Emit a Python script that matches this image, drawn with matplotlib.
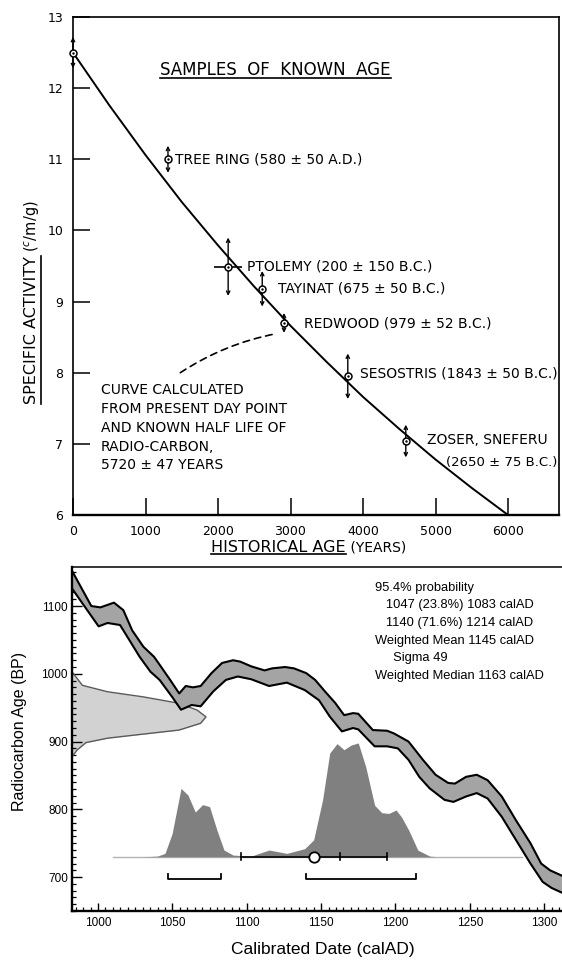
'''
    two-panel radiocarbon figure:
    top - Libby's samples of known age, bottom - a calibrated date
'''
import numpy as np
import matplotlib
matplotlib.use('Agg')
from matplotlib import pyplot as plt
from matplotlib.lines import Line2D
from matplotlib.ticker import MultipleLocator

# ---------------- top panel: samples of known age ----------------
curve_age = [0, 500, 1000, 1500, 2000, 2500, 3000, 3500, 4000, 4500, 5000, 5500, 6000]
curve_act = [12.5, 11.76, 11.06, 10.4, 9.79, 9.21, 8.66, 8.15, 7.66, 7.21, 6.78, 6.38, 6.0]

sample_label = ['', 'TREE RING (580 ± 50 A.D.)', 'PTOLEMY (200 ± 150 B.C.)',
                'TAYINAT (675 ± 50 B.C.)', 'REDWOOD (979 ± 52 B.C.)',
                'SESOSTRIS (1843 ± 50 B.C.)', 'ZOSER, SNEFERU']
sample_age = [0, 1310, 2140, 2610, 2910, 3790, 4590]
sample_act = [12.5, 11.0, 9.49, 9.18, 8.70, 7.95, 7.04]
sample_err = [0.22, 0.19, 0.41, 0.25, 0.14, 0.32, 0.23]
sample_age_err = [0, 0, 190, 0, 0, 0, 0]
zoser_date = '(2650 ± 75 B.C.)'
curve_note = ('CURVE CALCULATED\nFROM PRESENT DAY POINT\nAND KNOWN HALF LIFE OF\n'
              'RADIO-CARBON,\n5720 ± 47 YEARS')

top_xticks = [0, 1000, 2000, 3000, 4000, 5000, 6000]
top_yticks = [6, 7, 8, 9, 10, 11, 12, 13]

# ---------------- bottom panel: calibration ----------------
upper_yr = [982.5, 995.5, 1001.6, 1010.7, 1017, 1023, 1030.5, 1037.7, 1042.5, 1048.5,
            1054.6, 1059, 1063.8, 1069, 1076.3, 1083.4, 1090.8, 1095.6, 1103, 1112,
            1117, 1125.8, 1131.8, 1140, 1146, 1153, 1159.5, 1165.5, 1171.5, 1175,
            1184.8, 1194.4, 1199, 1208.8, 1218.5, 1227, 1235.4, 1240, 1247.5, 1254.7,
            1262, 1271.5, 1281, 1290.8, 1298, 1304, 1312]
upper_bp = [1152, 1100, 1098, 1105, 1094, 1064, 1040, 1025, 1010, 991,
            971, 982, 980, 982, 1001, 1016, 1020, 1018, 1011, 1005,
            1008, 1010, 1008, 1001, 991, 973, 957, 939, 942, 941,
            917, 916, 912, 900, 873, 851, 839, 838, 848, 851,
            843, 819, 784, 750, 720, 710, 702]
lower_yr = [982.5, 989.5, 1000.4, 1006.4, 1014.8, 1021, 1028, 1035.3, 1041.4, 1049.8,
            1055.8, 1063, 1069, 1077.5, 1086, 1094, 1103, 1115, 1127, 1139,
            1148.6, 1155.8, 1164, 1171.5, 1175, 1186, 1194.4, 1201.6, 1208.8, 1216,
            1223, 1233, 1239, 1247.5, 1254.7, 1262, 1271.5, 1281, 1290.8, 1299,
            1305, 1312]
lower_bp = [1126, 1104, 1070, 1075, 1072, 1050, 1025, 1003, 991, 966,
            947, 954, 952, 974, 991, 996, 992, 982, 987, 976,
            961, 937, 915, 920, 918, 893, 893, 890, 873, 848,
            831, 814, 811, 819, 824, 816, 789, 755, 720, 693,
            684, 677]

# measured radiocarbon age, drawn against the y axis
gauss_bp = [1003, 983, 973.5, 966, 956.5, 946.5, 936.5, 927, 917, 911, 905, 898.5, 887.5, 877.5]
gauss_yr = [982.5, 989.5, 1006.4, 1030.3, 1054.5, 1066.6, 1072.6, 1069, 1054.5, 1030.3,
            1006.4, 991.9, 985.9, 982.5]

# calibrated probability distribution
dist_base = 730
dist_yr = [1030, 1040, 1045, 1049.8, 1055.8, 1060.5, 1065.4, 1070.3, 1075, 1080,
           1084.7, 1090.8, 1103, 1115, 1127, 1139, 1145, 1151, 1155.8, 1160.7,
           1165.4, 1170.3, 1175, 1180, 1186, 1190.8, 1195.6, 1200.4, 1204, 1209,
           1215, 1223, 1228]
dist_bp = [730, 731, 735, 764, 831, 821, 796, 807, 804, 769,
           740, 732.5, 731, 740, 735, 742, 755, 814, 883, 897,
           888, 895, 898, 863, 806, 795, 794, 799, 789, 769,
           740, 731, 730]
baseline_yr = [1010, 1285]

cal_mean = 1145
cal_sigma = 49
cal_median = 1163
range_from = [1047, 1140]
range_to = [1083, 1214]
range_bp = 697

summary = ['95.4% probability',
           '   1047 (23.8%) 1083 calAD',
           '   1140 (71.6%) 1214 calAD',
           'Weighted Mean 1145 calAD',
           '     Sigma 49',
           'Weighted Median 1163 calAD']

plt.rcParams['font.family'] = ['Liberation Sans', 'DejaVu Sans']
HAND = 'DejaVu Sans'

fig = plt.figure(figsize=(5.62, 9.61), dpi=100)
W, H = 562.0, 961.0


def underline(txt, vertical=False, lw=1.2):
    fig.canvas.draw()
    bb = txt.get_window_extent().transformed(fig.transFigure.inverted())
    if vertical:
        x = bb.x1 + 1.0 / W
        ln = Line2D([x, x], [bb.y0, bb.y1], color='k', lw=lw, transform=fig.transFigure)
    else:
        y = bb.y0 + 1.0 / H
        ln = Line2D([bb.x0, bb.x1], [y, y], color='k', lw=lw, transform=fig.transFigure)
    fig.add_artist(ln)


# ======================= top panel =======================
ax = fig.add_axes([73 / W, 1 - 515 / H, (559 - 73) / W, (515 - 17) / H])
ax.set_xlim(0, 6703)
ax.set_ylim(6, 13)
ax.set_xticks(top_xticks)
ax.set_yticks(top_yticks)
ax.tick_params(direction='in', length=12, width=1.1, labelsize=9, pad=7)
for lbl in ax.get_xticklabels() + ax.get_yticklabels():
    lbl.set_fontfamily(HAND)
for sp in ax.spines.values():
    sp.set_linewidth(1.2)
ax.spines['bottom'].set_linewidth(1.7)

ax.plot(curve_age, curve_act, 'k-', lw=1.4, zorder=3)

ax.errorbar(sample_age, sample_act, xerr=sample_age_err, fmt='none',
            ecolor='k', elinewidth=1.2, capsize=0, zorder=3)
for i in range(len(sample_age)):
    ax.annotate('', xy=(sample_age[i], sample_act[i] + sample_err[i]),
                xytext=(sample_age[i], sample_act[i] - sample_err[i]),
                arrowprops=dict(arrowstyle='<->', lw=1.0, color='k',
                                shrinkA=0, shrinkB=0, mutation_scale=6),
                zorder=3)
ax.plot(sample_age, sample_act, 'o', ms=5, mfc='white', mec='k', mew=1.1, zorder=5,
        clip_on=False)
ax.plot(sample_age, sample_act, '.', ms=1.5, color='k', zorder=6, clip_on=False)

label_dx = [0, 7, 19, 16, 20, 12, 21]
label_dy = [0, 0, 0, 0, -1, 3, 1]
for i in range(1, len(sample_age)):
    ax.annotate(sample_label[i], xy=(sample_age[i], sample_act[i]),
                xytext=(label_dx[i], label_dy[i]), textcoords='offset pixels',
                ha='left', va='center', fontsize=10, fontfamily=HAND)
ax.annotate(zoser_date, xy=(sample_age[-1], sample_act[-1]), xytext=(40, -21),
            textcoords='offset pixels', ha='left', va='center', fontsize=9.5,
            fontfamily=HAND)

ax.text(386, 7.86, curve_note, ha='left', va='top', fontsize=10,
        fontfamily=HAND, linespacing=1.45)
ax.annotate('', xy=(2810, 8.55), xytext=(1480, 8.0),
            arrowprops=dict(arrowstyle='-', ls=(0, (4, 3)), lw=1.2, color='k',
                            connectionstyle='arc3,rad=-0.1', shrinkA=0, shrinkB=0))

title = ax.text(2790, 12.26, 'SAMPLES  OF  KNOWN  AGE', ha='center', va='center',
                fontsize=12, fontfamily=HAND)

xl = fig.text(211 / W, 1 - 547 / H, 'HISTORICAL AGE', ha='left', va='center',
              fontsize=11.5, fontfamily=HAND)
ax.annotate(' (YEARS)', xy=(1, 0), xycoords=xl, ha='left', va='bottom',
            fontsize=10, fontfamily=HAND)

yl = fig.text(32 / W, 1 - 330 / H, 'SPECIFIC ACTIVITY', rotation=90, ha='center',
              va='center', fontsize=11.5, fontfamily=HAND)
ax.annotate('($^{c}$/m/g)', xy=(0.5, 1), xycoords=yl, xytext=(0, 4),
            textcoords='offset pixels', rotation=90, ha='center', va='bottom',
            fontsize=10.5, fontfamily=HAND)

# ======================= bottom panel =======================
ax2 = fig.add_axes([72 / W, 1 - 911 / H, (562 - 72) / W, (911 - 567) / H])
ax2.set_xlim(982.5, 1312)
ax2.set_ylim(650, 1157.6)

ax2.fill_betweenx(gauss_bp, gauss_yr[-1], gauss_yr, color='#d2d2d2', lw=0, zorder=1)
ax2.plot(gauss_yr, gauss_bp, color='#5a5a5a', lw=1.0, zorder=2)

ax2.fill(np.r_[upper_yr, lower_yr[::-1]], np.r_[upper_bp, lower_bp[::-1]],
         color='#a4a4a4', lw=0, zorder=2)
ax2.plot(upper_yr, upper_bp, color='k', lw=1.5, zorder=3)
ax2.plot(lower_yr, lower_bp, color='k', lw=1.5, zorder=3)

ax2.plot(baseline_yr, [dist_base, dist_base], color='#b4b4b4', lw=1.0, zorder=2)
ax2.fill_between(dist_yr, dist_base, dist_bp, color='#808080', lw=0, zorder=3)

# mean +/- sigma with median tick
ax2.plot([cal_mean - cal_sigma, cal_mean + cal_sigma], [dist_base, dist_base],
         color='k', lw=1.2, zorder=4)
for xv in [cal_mean - cal_sigma, cal_median, cal_mean + cal_sigma]:
    ax2.plot([xv, xv], [dist_base - 5, dist_base + 5], color='k', lw=1.2, zorder=4)
ax2.plot([cal_mean], [dist_base], 'o', ms=7.5, mfc='white', mec='k', mew=1.3, zorder=5)

# 95.4% ranges
for a, b in zip(range_from, range_to):
    ax2.plot([a, a, b, b], [range_bp + 8, range_bp, range_bp, range_bp + 8],
             color='k', lw=1.3, zorder=4)

ax2.text(0.618, 0.957, '\n'.join(summary), transform=ax2.transAxes, ha='left',
         va='top', fontsize=9.3, linespacing=1.63)

ax2.xaxis.set_major_locator(MultipleLocator(50))
ax2.xaxis.set_minor_locator(MultipleLocator(5))
ax2.yaxis.set_major_locator(MultipleLocator(100))
ax2.yaxis.set_minor_locator(MultipleLocator(10))
ax2.tick_params(which='major', direction='in', length=6, width=1.0, labelsize=8.5, pad=4)
ax2.tick_params(which='minor', direction='in', length=3, width=0.9)
ax2.tick_params(axis='y', which='major', length=7, pad=3)
ax2.spines['right'].set_visible(False)
ax2.spines['left'].set_linewidth(1.7)
ax2.spines['bottom'].set_linewidth(1.7)
ax2.spines['top'].set_linewidth(1.1)

ax2.set_xlabel('Calibrated Date (calAD)', fontsize=12.5)
ax2.xaxis.set_label_coords((323 - 72) / 490, -(942 - 911) / 344)
ax2.set_ylabel('Radiocarbon Age (BP)', fontsize=11.5)
ax2.yaxis.set_label_coords(-(72 - 27) / 490, (911 - 731) / 344)

underline(title)
underline(xl)
underline(yl, vertical=True)

fig.savefig('out.png', dpi=100)
